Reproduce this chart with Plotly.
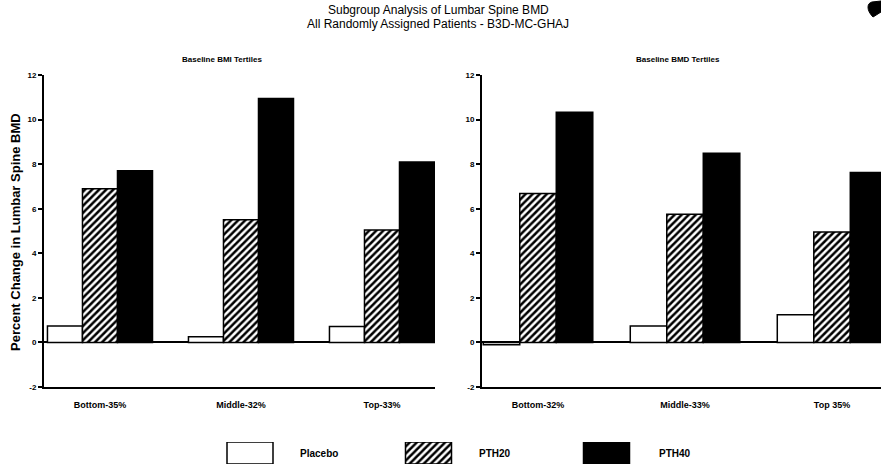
import plotly.graph_objects as go

# Percent change in lumbar spine BMD by baseline tertile
bmi_tertiles = ["Bottom-35%", "Middle-32%", "Top-33%"]
bmd_tertiles = ["Bottom-32%", "Middle-33%", "Top 35%"]

treatments = ["Placebo", "PTH20", "PTH40"]

bmi_placebo = [0.74, 0.25, 0.72]
bmi_pth20 = [6.9, 5.5, 5.05]
bmi_pth40 = [7.7, 10.95, 8.1]

bmd_placebo = [-0.1, 0.74, 1.24]
bmd_pth20 = [6.68, 5.75, 4.95]
bmd_pth40 = [10.33, 8.49, 7.62]

y_ticks = [-2, 0, 2, 4, 6, 8, 10, 12]

W, H = 881, 467
FONT = "Liberation Sans"


def px(x):
    return x / W


def py(y):
    return 1 - y / H


styles = {
    "Placebo": dict(color="white", line=dict(color="black", width=1.5)),
    "PTH20": dict(color="white", line=dict(color="black", width=1.5),
                  pattern=dict(shape="/", fgcolor="black", bgcolor="white",
                               size=5, solidity=0.5)),
    "PTH40": dict(color="black", line=dict(color="black", width=1.5)),
}

fig = go.Figure()

panels = [
    ("x", "y", [bmi_placebo, bmi_pth20, bmi_pth40]),
    ("x2", "y2", [bmd_placebo, bmd_pth20, bmd_pth40]),
]
for xa, ya, series in panels:
    for name, vals in zip(treatments, series):
        fig.add_trace(go.Bar(
            x=list(range(len(vals))), y=vals, name=name,
            marker=styles[name], xaxis=xa, yaxis=ya,
            showlegend=False, hoverinfo="skip",
        ))

# Legend swatches drawn as bars on a hidden pixel-scaled axis
swatch_centers = [250, 428.5, 606.5]
for name, cx in zip(treatments, swatch_centers):
    fig.add_trace(go.Bar(
        x=[cx], y=[1], base=[0], width=[46], marker=styles[name],
        xaxis="x3", yaxis="y3", showlegend=False, hoverinfo="skip",
    ))

panel_y = [py(387), py(75)]
common_y = dict(
    range=[-2, 12], tickvals=y_ticks, ticktext=[str(v) for v in y_ticks],
    showline=True, linecolor="black", linewidth=2, ticks="outside",
    ticklen=4, tickwidth=1.5, tickcolor="black", showgrid=False,
    zeroline=True, zerolinecolor="black", zerolinewidth=2,
    tickfont=dict(family=FONT, size=8, color="black", weight="bold"),
    domain=panel_y, automargin=False, fixedrange=True,
)
common_x = dict(
    tickvals=[0, 1, 2], showline=True, linecolor="black", linewidth=2,
    ticks="outside", ticklen=8, tickcolor="rgba(0,0,0,0)", showgrid=False,
    zeroline=False, automargin=False, fixedrange=True,
    tickfont=dict(family=FONT, size=9, color="black", weight="bold"),
)

fig.update_layout(
    width=W, height=H,
    margin=dict(l=0, r=0, t=0, b=0),
    template="none",
    paper_bgcolor="white", plot_bgcolor="white",
    barmode="group", bargap=0.255, bargroupgap=0,
    font=dict(family=FONT, color="black"),
    xaxis=dict(common_x, domain=[px(44), px(435)], range=[-0.397, 2.376],
               ticktext=bmi_tertiles, anchor="y"),
    yaxis=dict(common_y, anchor="x"),
    xaxis2=dict(common_x, domain=[px(482), 1], range=[-0.381, 2.333],
                ticktext=bmd_tertiles, anchor="y2"),
    yaxis2=dict(common_y, anchor="x2"),
    xaxis3=dict(domain=[0, 1], range=[0, W], visible=False, fixedrange=True),
    yaxis3=dict(domain=[py(464), py(442)], range=[0, 1], visible=False,
                fixedrange=True, anchor="x3"),
)

annotations = [
    dict(x=px(438), y=py(10), text="Subgroup Analysis of Lumbar Spine BMD",
         font=dict(size=12)),
    dict(x=px(438), y=py(24),
         text="All Randomly Assigned Patients - B3D-MC-GHAJ",
         font=dict(size=12)),
    dict(x=px(222), y=py(60), text="Baseline BMI Tertiles",
         font=dict(size=8, weight="bold")),
    dict(x=px(678), y=py(60), text="Baseline BMD Tertiles",
         font=dict(size=8, weight="bold")),
    dict(x=px(15), y=py(232), text="Percent Change in Lumbar Spine BMD",
         textangle=-90, font=dict(size=13, weight="bold")),
]
for name, lx in zip(treatments, [298, 477, 657]):
    annotations.append(dict(x=px(lx), y=py(453), text=name, xanchor="left",
                            font=dict(size=10, weight="bold")))
for a in annotations:
    a.setdefault("xanchor", "center")
    fig.add_annotation(xref="paper", yref="paper", yanchor="middle",
                       showarrow=False, **a)

# Ink mark in the top-right corner
fig.add_shape(type="path", xref="paper", yref="paper",
              path=f"M {px(873)} {py(17)} C {px(866)} {py(10)} {px(867)} {py(3)} "
                   f"{px(872)} {py(2)} L {px(881)} {py(1)} L {px(881)} {py(12)} Z",
              fillcolor="black", line=dict(color="black", width=1))

fig.write_html("out.html")
